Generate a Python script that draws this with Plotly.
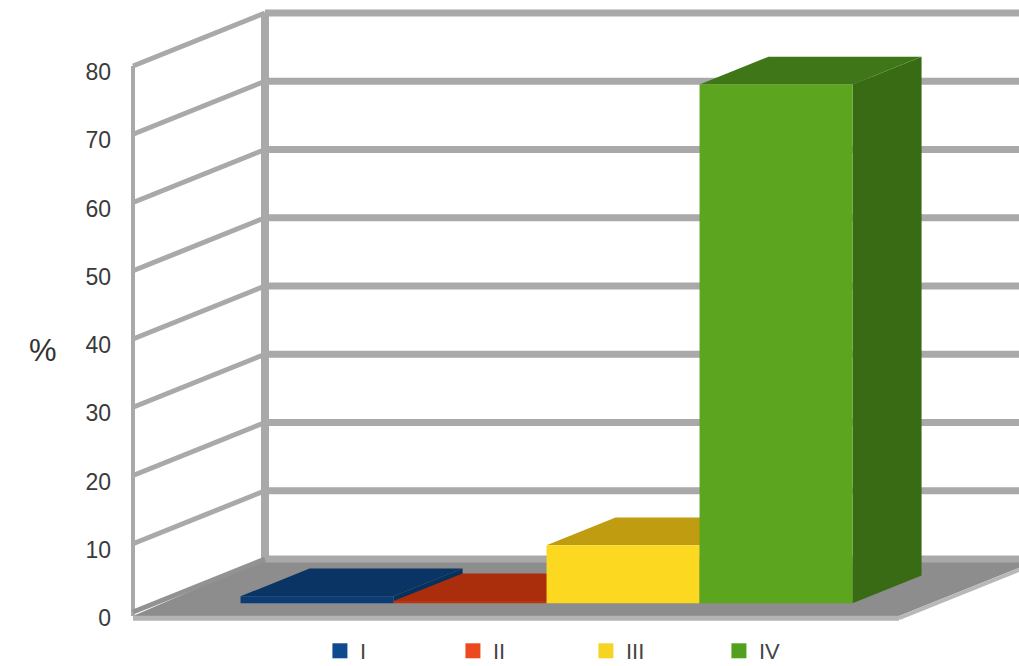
import plotly.graph_objects as go

# ---- data ----
categories = ["I", "II", "III", "IV"]
values = [1.0, 0.3, 8.5, 76.0]
y_ticks = [0, 10, 20, 30, 40, 50, 60, 70, 80]

# ---- style ----
front_colors = ["#0b3c74", "#bd3410", "#fdd820", "#5ba51f"]
top_colors = ["#0a3464", "#aa2e0b", "#bf9c10", "#3f7618"]
side_colors = ["#08305c", "#982808", "#a8880c", "#396a14"]
legend_colors = ["#0d4a8e", "#ec4a1e", "#f6d424", "#52a01d"]

W, H = 1019, 666
PX_X = 153.0           # px per category unit
PX_Y = 6.825           # px per percent
X0 = 295.0             # px of category 0 (front plane)
Y0 = 612.0             # px of value 0 (front plane)
DX = 132.0 / PX_X      # wall depth (x units)
DY = 53.0 / PX_Y       # wall depth (y units)
F1, F2 = 0.167, 0.69   # bar front/back depth fractions
XL = (133 - X0) / PX_X  # left wall front edge
XR = (899 - X0) / PX_X  # floor right front edge
XFAR = 6.0
YMAX = max(y_ticks)

fig = go.Figure()
grid = "#a9a9a9"
shapes = []
# floor (slightly thick at its front edge)
shapes.append(dict(type="path", layer="below",
                   path=f"M{XL},-0.6 L{XR},-0.6 L{XR+DX},{DY-0.6} L{XFAR},{DY} L{XL+DX},{DY} Z",
                   fillcolor="#8d8d8d", line=dict(width=0)))
# gridlines on walls
for t in y_ticks:
    if t > 0:
        shapes.append(dict(type="line", layer="below", x0=XL, y0=t, x1=XL + DX, y1=t + DY,
                           line=dict(color=grid, width=5)))
    shapes.append(dict(type="line", layer="below", x0=XL + DX, y0=t + DY, x1=XFAR, y1=t + DY,
                       line=dict(color=grid, width=7)))
# wall edges
shapes.append(dict(type="line", layer="below", x0=XL, y0=-0.6, x1=XL, y1=YMAX,
                   line=dict(color=grid, width=4)))
shapes.append(dict(type="line", layer="below", x0=XL + DX, y0=DY, x1=XL + DX, y1=YMAX + DY,
                   line=dict(color=grid, width=8)))
# floor edges
shapes.append(dict(type="line", layer="below", x0=XL, y0=0, x1=XL + DX, y1=DY,
                   line=dict(color="#929292", width=5)))
shapes.append(dict(type="line", layer="below", x0=XL, y0=-0.9, x1=XR, y1=-0.9,
                   line=dict(color="#b3b3b3", width=5)))
shapes.append(dict(type="line", layer="below", x0=XR, y0=-0.9, x1=XR + DX, y1=DY - 0.9,
                   line=dict(color="#b8b8b8", width=4)))

for i, (cat, v) in enumerate(zip(categories, values)):
    xl1, xr1 = i - 0.5 + F1 * DX, i + 0.5 + F1 * DX
    xl2, xr2 = i - 0.5 + F2 * DX, i + 0.5 + F2 * DX
    yb1, yb2 = F1 * DY, F2 * DY
    # side face
    fig.add_trace(go.Scatter(x=[xr1, xr2, xr2, xr1, xr1], y=[yb1, yb2, yb2 + v, yb1 + v, yb1],
                             mode="lines", fill="toself", fillcolor=side_colors[i],
                             line=dict(width=0, color=side_colors[i]), showlegend=False,
                             hoverinfo="skip", zorder=2 * i))
    # top face
    fig.add_trace(go.Scatter(x=[xl1, xr1, xr2, xl2, xl1], y=[yb1 + v, yb1 + v, yb2 + v, yb2 + v, yb1 + v],
                             mode="lines", fill="toself", fillcolor=top_colors[i],
                             line=dict(width=0, color=top_colors[i]), showlegend=False,
                             hoverinfo="skip", zorder=2 * i))
    # front face (the bar)
    fig.add_trace(go.Bar(x=[i + F1 * DX], y=[v], base=[yb1], width=1.0, name=cat,
                         marker=dict(color=front_colors[i], line=dict(width=0)),
                         showlegend=False, zorder=2 * i + 1))
    # legend entry
    fig.add_trace(go.Scatter(x=[None], y=[None], mode="markers", name=cat,
                             marker=dict(symbol="square", size=15, color=legend_colors[i]),
                             showlegend=True))

fig.add_annotation(x=27 / W, y=1 - 351 / H, xref="paper", yref="paper", text="%",
                   showarrow=False,
                   font=dict(family="Liberation Sans, Arial", size=31, color="#333333"))

fig.update_layout(
    width=W, height=H,
    margin=dict(l=0, r=0, t=0, b=0, autoexpand=False),
    paper_bgcolor="white", plot_bgcolor="white",
    barmode="overlay",
    shapes=shapes,
    font=dict(family="Liberation Sans, Arial", color="#333333"),
    xaxis=dict(range=[-X0 / PX_X, (W - X0) / PX_X], domain=[0, 1], visible=False,
               showgrid=False, zeroline=False, fixedrange=True),
    yaxis=dict(range=[(Y0 - H) / PX_Y, Y0 / PX_Y], domain=[0, 1], anchor="free",
               position=133 / W, tickmode="array", tickvals=y_ticks,
               ticktext=[str(t) for t in y_ticks], showgrid=False, zeroline=False,
               showline=False, ticks="", ticklabelstandoff=22, ticklabelshift=6,
               tickfont=dict(size=23, color="#3a3a3a"), automargin=False),
    legend=dict(orientation="h", x=0.575, xanchor="center", y=-0.009, yanchor="bottom",
                font=dict(size=22, color="#444444"), bgcolor="rgba(0,0,0,0)",
                entrywidth=88, itemwidth=30, traceorder="normal",
                tracegroupgap=0),
    showlegend=True,
)

fig.write_html("out.html")
